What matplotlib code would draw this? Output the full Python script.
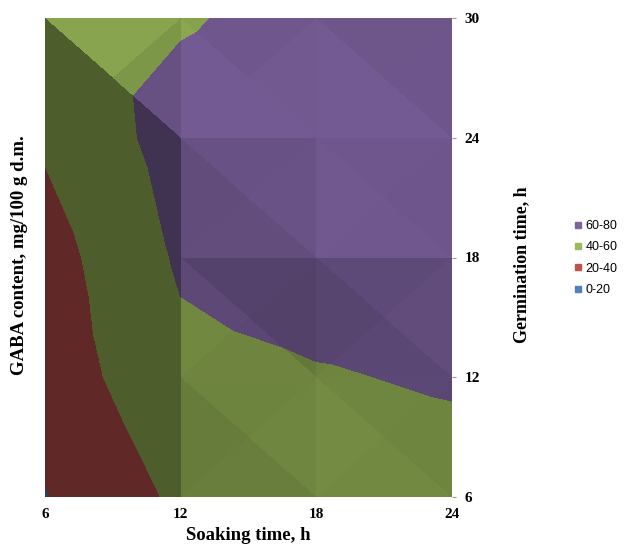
import numpy as np
import matplotlib
matplotlib.use("Agg")
import matplotlib.pyplot as plt
import matplotlib.tri as mtri
from matplotlib.lines import Line2D

# soaking time (x), germination time (y), GABA content mg/100 g d.m.
soak = [6, 12, 18, 24]
germ = [6, 12, 18, 24, 30]
gaba = [
    [19.0, 43.7, 50.0, 52.0],   # germ 6 h
    [28.8, 54.8, 58.5, 62.0],   # germ 12 h
    [31.7, 62.5, 70.0, 70.0],   # germ 18 h
    [42.5, 68.2, 72.0, 73.0],   # germ 24 h
    [57.0, 58.0, 67.2, 74.0],   # germ 30 h
]
levels = [0, 20, 40, 60, 80]
band_labels = ['0-20', '20-40', '40-60', '60-80']
band_colors = ['#4F81BD', '#C0504D', '#9BBB59', '#8064A2']

# build the surface like Excel does: each cell split in 4 triangles around its centre
S, G = np.meshgrid(soak, germ)
Z = np.array(gaba)
ns, ng = len(soak), len(germ)
xs = list(S.ravel().astype(float))
ys = list(G.ravel().astype(float))
zs = list(Z.ravel())
tris = []
for i in range(ng - 1):
    for j in range(ns - 1):
        a = i * ns + j
        b = a + 1
        c = a + ns + 1
        d = a + ns
        xs.append((soak[j] + soak[j + 1]) / 2)
        ys.append((germ[i] + germ[i + 1]) / 2)
        zs.append(Z[i:i + 2, j:j + 2].mean())
        m = len(xs) - 1
        tris += [[a, b, m], [b, c, m], [c, d, m], [d, a, m]]
xs, ys, zs = np.array(xs), np.array(ys), np.array(zs)
tri = mtri.Triangulation(xs, ys, np.array(tris))

# simple facet lighting, darker for steep facets
k = 0.2
light = np.array([0.2, 0.35, 0.92])
light = light / np.linalg.norm(light)
fac = []
for t in tri.triangles:
    p = np.column_stack([xs[t], ys[t], k * zs[t]])
    n = np.cross(p[1] - p[0], p[2] - p[0])
    if n[2] < 0:
        n = -n
    n = n / np.linalg.norm(n)
    fac.append(np.clip(-0.143 + 1.156 * np.dot(n, light), 0.5, 0.9))
fac = np.array(fac)

# shading raster over the plot area (one sample per screen pixel or so)
gx = np.linspace(6, 24, 820)
gy = np.linspace(6, 30, 960)
GX, GY = np.meshgrid(gx, gy)
idx = tri.get_trifinder()(GX, GY)
idx[idx < 0] = 0
overlay = np.zeros(GX.shape + (4,))
overlay[..., 3] = 1 - fac[idx]

fig = plt.figure(figsize=(6.26, 5.52), dpi=100)
ax = fig.add_axes([45 / 626, 1 - 497 / 552, 407 / 626, 479 / 552])
ax.tricontourf(tri, zs, levels=levels, colors=band_colors, zorder=1)
ax.imshow(overlay, extent=(6, 24, 6, 30), origin='lower', aspect='auto',
          interpolation='nearest', zorder=2)

ax.set_xlim(6, 24)
ax.set_ylim(6, 30)
ax.set_xticks(soak)
ax.set_yticks(germ)
ax.yaxis.tick_right()
for sp in ax.spines.values():
    sp.set_visible(False)
ax.tick_params(axis='x', length=0, pad=8)
ax.tick_params(axis='y', length=3, color='#999999', pad=6)
for lab in ax.get_xticklabels() + ax.get_yticklabels():
    lab.set_fontfamily('Liberation Serif')
    lab.set_fontsize(11)
    lab.set_fontweight('bold')

ax.set_xlabel('Soaking time, h', family='Liberation Serif', fontsize=13.5,
              fontweight='bold', labelpad=4)
fig.text(20 / 626, 1 - 255 / 552, 'GABA content, mg/100 g d.m.', rotation=90,
         ha='center', va='center', family='Liberation Serif', fontsize=13.5,
         fontweight='bold')
fig.text(522 / 626, 1 - 265 / 552, 'Germination time, h', rotation=90,
         ha='center', va='center', family='Liberation Serif', fontsize=13,
         fontweight='bold')

handles = [Line2D([], [], ls='none', marker='s', ms=5, color=band_colors[i])
           for i in range(3, -1, -1)]
fig.legend(handles, band_labels[::-1], loc='center left',
           bbox_to_anchor=(563 / 626, 1 - 258 / 552), frameon=False,
           prop={'family': 'Liberation Sans', 'size': 9},
           handlelength=0.6, handletextpad=0.3, labelspacing=0.75)

fig.savefig('out.png', dpi=100)
